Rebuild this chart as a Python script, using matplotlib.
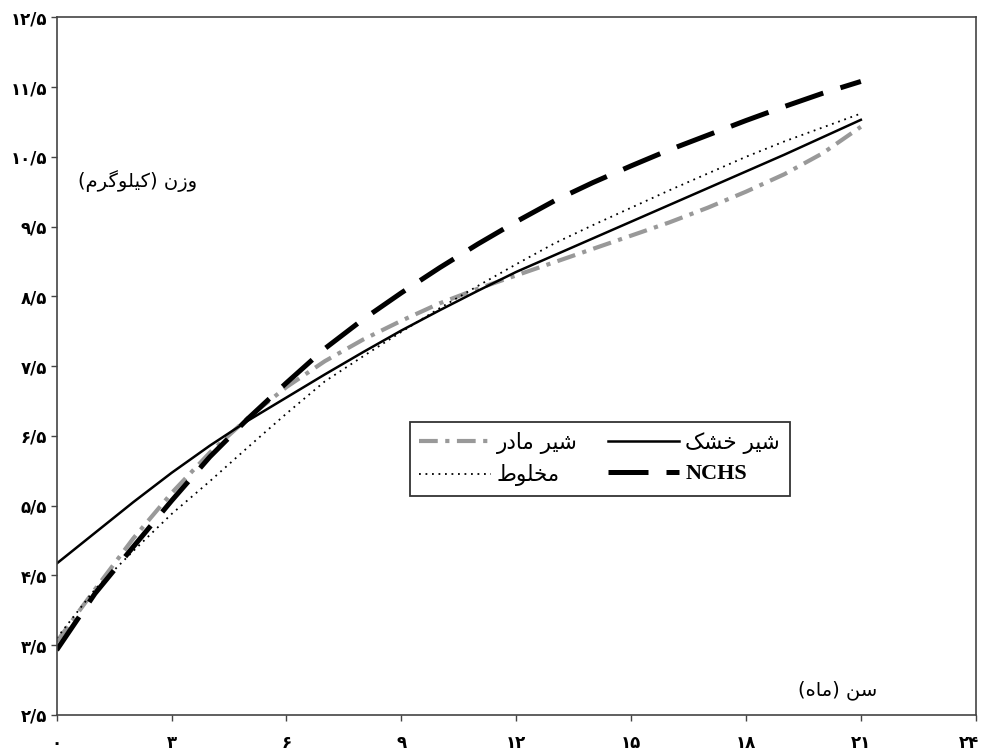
import matplotlib
matplotlib.use('Agg')
import matplotlib.pyplot as plt
from matplotlib.ticker import FixedLocator
from matplotlib.transforms import ScaledTranslation

plt.rcParams['font.family'] = ['DejaVu Sans']

# داده ها (وزن بر حسب کیلوگرم، سن بر حسب ماه)
months = list(range(0, 22))
formula = [4.67, 5.11, 5.55, 5.97, 6.36, 6.72, 7.05, 7.38, 7.70, 8.01, 8.30,
           8.58, 8.85, 9.09, 9.33, 9.57, 9.81, 10.05, 10.29, 10.53, 10.78, 11.03]
breast = [3.55, 4.30, 5.03, 5.68, 6.26, 6.76, 7.20, 7.57, 7.88, 8.15, 8.40,
          8.61, 8.80, 8.99, 9.18, 9.37, 9.56, 9.77, 10.00, 10.25, 10.55, 10.93]
mixed = [3.60, 4.30, 4.85, 5.38, 5.85, 6.34, 6.82, 7.28, 7.64, 7.99, 8.33,
         8.65, 8.96, 9.26, 9.52, 9.77, 10.02, 10.26, 10.50, 10.72, 10.92, 11.12]
nchs = [3.43, 4.24, 4.91, 5.57, 6.20, 6.75, 7.26, 7.75, 8.17, 8.55, 8.91,
        9.25, 9.57, 9.87, 10.13, 10.37, 10.60, 10.81, 11.02, 11.22, 11.41, 11.58]

x_ticks = [0, 3, 6, 9, 12, 15, 18, 21, 24]
y_ticks = [2.5, 3.5, 4.5, 5.5, 6.5, 7.5, 8.5, 9.5, 10.5, 11.5, 12.5]

label_breast = 'شیر مادر'
label_formula = 'شیر خشک'
label_mixed = 'مخلوط'
label_nchs = 'NCHS'
x_title = 'سن (ماه)'
y_title = 'وزن (کیلوگرم)'

# شکل حروف فارسی (matplotlib حروف را به هم نمی چسباند)
FORMS = {
    'ا': ('\uFE8D', '\uFE8E', None, None),
    'د': ('\uFEA9', '\uFEAA', None, None),
    'ر': ('\uFEAD', '\uFEAE', None, None),
    'ز': ('\uFEAF', '\uFEB0', None, None),
    'و': ('\uFEED', '\uFEEE', None, None),
    'ط': ('\uFEC1', '\uFEC2', '\uFEC3', '\uFEC4'),
    'خ': ('\uFEA5', '\uFEA6', '\uFEA7', '\uFEA8'),
    'س': ('\uFEB1', '\uFEB2', '\uFEB3', '\uFEB4'),
    'ش': ('\uFEB5', '\uFEB6', '\uFEB7', '\uFEB8'),
    'ل': ('\uFEDD', '\uFEDE', '\uFEDF', '\uFEE0'),
    'م': ('\uFEE1', '\uFEE2', '\uFEE3', '\uFEE4'),
    'ن': ('\uFEE5', '\uFEE6', '\uFEE7', '\uFEE8'),
    'ه': ('\uFEE9', '\uFEEA', '\uFEEB', '\uFEEC'),
    'ی': ('\uFBFC', '\uFBFD', '\uFBFE', '\uFBFF'),
    'ک': ('\uFB8E', '\uFB8F', '\uFB90', '\uFB91'),
    'گ': ('\uFB92', '\uFB93', '\uFB94', '\uFB95'),
}


def fa(text):
    out = []
    for i, ch in enumerate(text):
        if ch not in FORMS:
            out.append(ch)
            continue
        prev = text[i - 1] if i > 0 else ''
        nxt = text[i + 1] if i + 1 < len(text) else ''
        jp = prev in FORMS and FORMS[prev][2] is not None
        jn = FORMS[ch][2] is not None and nxt in FORMS
        iso, fin, ini, med = FORMS[ch]
        if jp and jn:
            out.append(med)
        elif jp:
            out.append(fin)
        elif jn:
            out.append(ini)
        else:
            out.append(iso)
    s = ''.join(reversed(out))
    return s.translate(str.maketrans('()', ')('))


digits = str.maketrans('0123456789', '۰۱۲۳۴۵۶۷۸۹')


def fa_num(v):
    s = ('%g' % v).replace('.', '/')
    return s.translate(digits)


fig = plt.figure(figsize=(9.84, 7.51), dpi=100)
ax = fig.add_axes([0.0576, 0.048, 0.934, 0.929])

ax.plot(months, breast, color='#999999', lw=3.0, dashes=(4.5, 1.8, 1.0, 1.8),
        dash_capstyle='butt', label=fa(label_breast))
ax.plot(months, mixed, color='black', lw=1.3, dashes=(1.0, 2.6),
        label=fa(label_mixed))
ax.plot(months, formula, color='black', lw=1.8, label=fa(label_formula))
ax.plot(months, nchs, color='black', lw=3.6, dashes=(8.0, 3.6),
        dash_capstyle='butt', label=label_nchs)

ax.set_xlim(0, 24)
ax.set_ylim(2.5, 12.5)
ax.xaxis.set_major_locator(FixedLocator(x_ticks))
ax.yaxis.set_major_locator(FixedLocator(y_ticks))
ax.set_xticklabels([fa_num(v) for v in x_ticks], fontsize=12, fontweight='bold')
ax.set_yticklabels([fa_num(v) for v in y_ticks], fontsize=12, fontweight='bold')
ax.tick_params(axis='both', direction='out', length=4, width=1, color='#444444')
ax.tick_params(axis='x', pad=10)
ax.tick_params(axis='y', pad=3)
# آخرین برچسب محور افقی کمی به چپ
last = ax.get_xticklabels()[-1]
last.set_transform(last.get_transform() + ScaledTranslation(-5 / 72, 0, fig.dpi_scale_trans))
for sp in ax.spines.values():
    sp.set_color('#444444')
    sp.set_linewidth(1.2)

ax.text(2.1, 10.15, fa(y_title), fontsize=14, ha='center', va='center')
ax.text(20.4, 2.86, fa(x_title), fontsize=14, ha='center', va='center')

leg = ax.legend(ncol=2, loc='center', bbox_to_anchor=(0.591, 0.367),
                fontsize=15.5, frameon=True, fancybox=False, handlelength=3.3,
                handletextpad=0.3, columnspacing=1.4, borderpad=0.45,
                labelspacing=0.5, borderaxespad=0)
leg.get_frame().set_edgecolor('#333333')
leg.get_frame().set_linewidth(1.3)
leg.get_frame().set_alpha(1)
for t in leg.get_texts():
    if t.get_text() == label_nchs:
        t.set_fontfamily('Liberation Serif')
        t.set_fontweight('bold')
        t.set_fontsize(16)

fig.savefig('out.png', dpi=100)
